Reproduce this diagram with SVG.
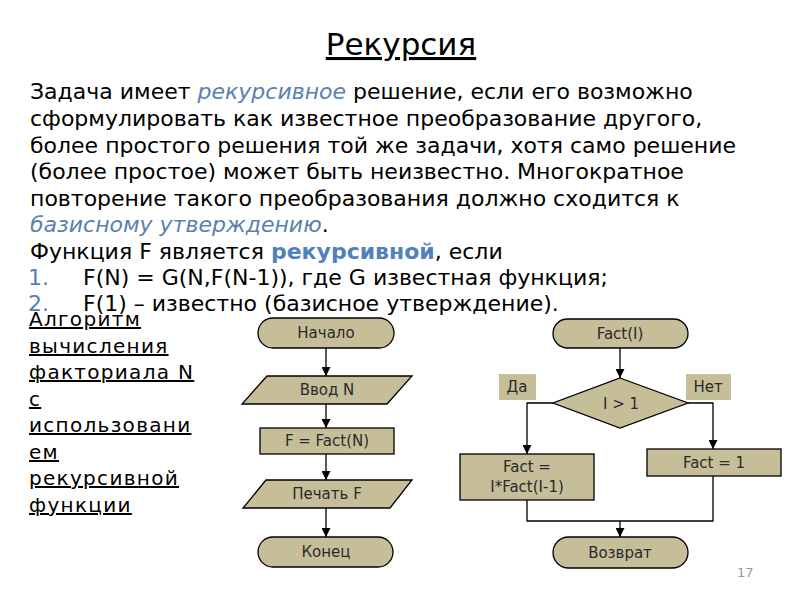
<svg xmlns="http://www.w3.org/2000/svg" width="800" height="600" viewBox="0 0 800 600">
<style>
.title{font-family:"DejaVu Sans",sans-serif;font-size:31px;fill:#000;text-decoration:underline}
.body{font-family:"DejaVu Sans",sans-serif;font-size:22px;fill:#000}
.blue{fill:#4F81BD}
.it{font-style:italic;fill:#5A7FB0}
.side{font-family:"DejaVu Sans",sans-serif;font-size:20px;fill:#000;text-decoration:underline;letter-spacing:1.3px}
.shape{fill:#C6BE99;stroke:#000;stroke-width:1.3}
.lbl{fill:#C6BE99;stroke:none}
.t{font-family:"DejaVu Sans",sans-serif;font-size:15px;fill:#2a2a2a;text-anchor:middle;dominant-baseline:central}
.conn path{fill:none;stroke:#000;stroke-width:1.3}
.pg{font-family:"DejaVu Sans",sans-serif;font-size:13px;fill:#999}
</style>
<defs>
<marker id="ah" viewBox="0 0 10 10" refX="10" refY="5" markerWidth="9" markerHeight="9" markerUnits="userSpaceOnUse" orient="auto">
<path d="M0,0 L10,5 L0,10 z" fill="#000"/>
</marker>
</defs>
<rect width="800" height="600" fill="#fff"/>
<text class="title" x="401" y="55" text-anchor="middle">Рекурсия</text>
<g id="text">
<text class="body" x="30" y="99">Задача имеет <tspan class="it">рекурсивное</tspan> решение, если его возможно</text>
<text class="body" x="30" y="126">сформулировать как известное преобразование другого,</text>
<text class="body" x="30" y="153">более простого решения той же задачи, хотя само решение</text>
<text class="body" x="30" y="179">(более простое) может быть неизвестно. Многократное</text>
<text class="body" x="30" y="206">повторение такого преобразования должно сходится к</text>
<text class="body" x="30" y="232"><tspan class="it">базисному утверждению</tspan>.</text>
<text class="body" x="30" y="259">Функция F является <tspan class="blue" font-weight="bold">рекурсивной</tspan>, если</text>
<text class="body" x="28" y="285"><tspan class="blue">1.</tspan><tspan x="83">F(N) = G(N,F(N-1)), где G известная функция;</tspan></text>
<text class="body" x="28" y="311"><tspan class="blue">2.</tspan><tspan x="83">F(1) – известно (базисное утверждение).</tspan></text>
</g>
<g id="side">
<text class="side" x="29" y="326">Алгоритм</text>
<text class="side" x="29" y="353">вычисления</text>
<text class="side" x="29" y="379">факториала N</text>
<text class="side" x="29" y="406">с</text>
<text class="side" x="29" y="432">использовани</text>
<text class="side" x="29" y="459">ем</text>
<text class="side" x="29" y="485">рекурсивной</text>
<text class="side" x="29" y="512">функции</text>
</g>
<g class="conn">
<path d="M326,348 V376" marker-end="url(#ah)"/>
<path d="M326,404 V428" marker-end="url(#ah)"/>
<path d="M326,454 V480" marker-end="url(#ah)"/>
<path d="M326,508 V537" marker-end="url(#ah)"/>
<path d="M620,348 V378" marker-end="url(#ah)"/>
<path d="M553,403 H527 V454" marker-end="url(#ah)"/>
<path d="M688,403 H713 V449" marker-end="url(#ah)"/>
<path d="M527,500 V521 H713 V476"/>
<path d="M620,521 V537" marker-end="url(#ah)"/>
</g>
<g id="start"><rect class="shape" x="258" y="318" width="136" height="30" rx="15"/><text class="t" x="326" y="333">Начало</text></g>
<g id="input"><path class="shape" d="M267,376 H412 L387,404 H242 Z"/><text class="t" x="327" y="390">Ввод N</text></g>
<g id="call"><rect class="shape" x="260" y="428" width="134" height="26"/><text class="t" x="327" y="441">F = Fact(N)</text></g>
<g id="print"><path class="shape" d="M266,480 H412 L390,508 H243 Z"/><text class="t" x="327" y="494">Печать F</text></g>
<g id="end"><rect class="shape" x="258" y="537" width="135" height="30" rx="15"/><text class="t" x="326" y="552">Конец</text></g>
<g id="fact"><rect class="shape" x="553" y="319" width="135" height="29" rx="14.5"/><text class="t" x="620" y="334">Fact(I)</text></g>
<g id="cond"><path class="shape" d="M620,378 L688,403 L620,428 L553,403 Z"/><text class="t" x="621" y="404">I &gt; 1</text></g>
<g id="yes"><rect class="lbl" x="499" y="374" width="37" height="26"/><text class="t" x="517" y="387">Да</text></g>
<g id="no"><rect class="lbl" x="686" y="374" width="45" height="26"/><text class="t" x="708" y="387">Нет</text></g>
<g id="rec"><rect class="shape" x="460" y="454" width="134" height="46"/><text class="t" x="527" y="467">Fact =</text><text class="t" x="527" y="487">I*Fact(I-1)</text></g>
<g id="base"><rect class="shape" x="647" y="449" width="134" height="27"/><text class="t" x="714" y="463">Fact = 1</text></g>
<g id="ret"><rect class="shape" x="553" y="537" width="135" height="31" rx="15.5"/><text class="t" x="620" y="553">Возврат</text></g>
<text class="pg" x="737" y="577">17</text>
</svg>
